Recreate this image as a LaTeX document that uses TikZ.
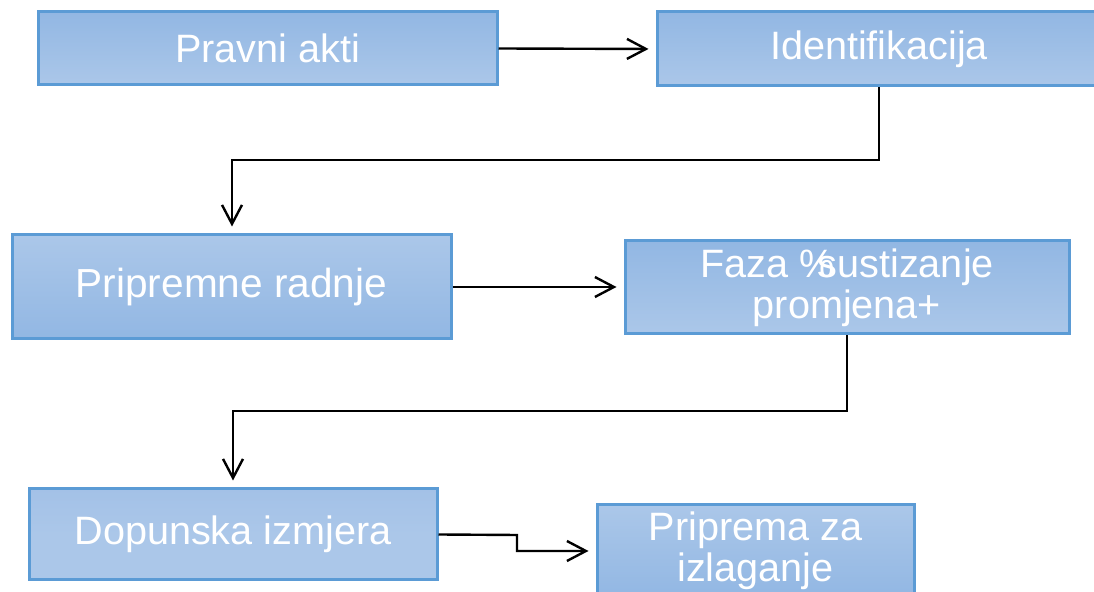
\documentclass[tikz,border=0pt]{standalone}
\usepackage{fontspec}
\setmainfont{Liberation Sans}
\usetikzlibrary{arrows.meta}
\definecolor{bdark}{RGB}{146,183,227}
\definecolor{blight}{RGB}{171,199,233}
\definecolor{bmid}{RGB}{163,193,231}
\definecolor{bborder}{RGB}{91,155,213}
\tikzset{
  box/.style={rectangle, draw=bborder, line width=1.5pt, text=white, align=center,
    font=\fontsize{19.8}{20.5}\selectfont, inner sep=0pt},
  dtl/.style={top color=bdark, bottom color=blight},
  ltd/.style={top color=blight, bottom color=bdark},
  flat/.style={top color=bmid, bottom color=blight, middle color=blight},
  arr/.style={draw=black, line width=1.2pt, -{Straight Barb[length=9.5pt,width=10pt]}, shorten >=3.5pt},
}
\begin{document}
\begin{tikzpicture}[x=0.5pt,y=-0.5pt]
\useasboundingbox (0,0) rectangle (1094,592);
\node[box,dtl,minimum width=229.5pt,minimum height=36.5pt] (b1) at (267.5,48.5) {Pravni akti};
\node[box,dtl,minimum width=222pt,minimum height=37pt] (b2) at (879,49) {Identifikacija};
\node[box,ltd,minimum width=219.5pt,minimum height=52pt,font=\fontsize{20.3}{20.5}\selectfont] (b3) at (231.5,287) {Pripremne radnje};
\node[box,dtl,minimum width=222pt,minimum height=46.5pt] (b4) at (847,287.5) {Faza \%\kern-0.42em sustizanje\\promjena+};
\node[box,flat,minimum width=204pt,minimum height=45.5pt] (b5) at (233,534.5) {Dopunska izmjera};
\node[box,ltd,minimum width=158.5pt,minimum height=46pt] (b6) at (755.5,551) {Priprema za\\izlaganje};
\coordinate (m1) at (232,160);
\coordinate (m2) at (233,411);
\coordinate (m3) at (517,535);
\draw[arr] (b1.east) -- (b2.west);
\draw[arr] (b2.south) |- (m1) -- (m1 |- b3.north);
\draw[arr] (b3.east) -- (b3.east -| b4.west);
\draw[arr] (b4.south) |- (m2) -- (m2 |- b5.north);
\draw[arr] (b5.east) -- (m3) |- (b6.west);
\end{tikzpicture}
\end{document}
